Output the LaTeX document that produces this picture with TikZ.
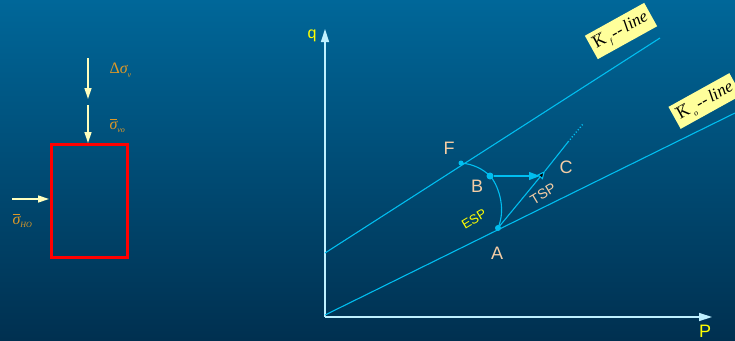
\documentclass[tikz,border=0pt]{standalone}
\usepackage{fontspec}
\setmainfont{Liberation Sans}
\newfontfamily\tnr{Liberation Serif}
\usetikzlibrary{arrows.meta}
\definecolor{bgtop}{RGB}{0,103,153}
\definecolor{bgbot}{RGB}{0,48,80}
\definecolor{arrowyel}{RGB}{255,255,190}
\definecolor{sigcol}{RGB}{220,152,40}
\definecolor{axiscol}{RGB}{190,240,255}
\definecolor{linecol}{RGB}{0,190,240}
\definecolor{ptlab}{RGB}{245,205,165}
\definecolor{qyel}{RGB}{255,255,0}
\definecolor{boxyel}{RGB}{255,255,155}
\newcommand{\ovl}[1]{$\overline{\hbox{#1}}$}
\newcommand{\sbs}[1]{\raisebox{-0.5ex}{\fontsize{8}{8}\selectfont #1}}
\tikzset{
  load/.style={draw=arrowyel, line width=1.4pt, -{Triangle[width=7pt,length=11pt]}},
  sig/.style={text=sigcol, font=\tnr\itshape\fontsize{16}{18}\selectfont},
  axis/.style={draw=axiscol, line width=1.4pt, -{Triangle[width=8pt,length=13pt]}},
  kline/.style={draw=linecol, line width=1.1pt},
  pt/.style={circle, fill=linecol, inner sep=0pt, minimum size=#1},
  ptlabel/.style={text=ptlab, font=\fontsize{18}{20}\selectfont},
  tagbox/.style={fill=boxyel, rotate=29, inner xsep=4pt, inner ysep=4pt, font=\tnr\itshape\fontsize{17}{19}\selectfont, text=black}
}
\begin{document}
\begin{tikzpicture}[x=1pt,y=-1pt]
\shade[top color=bgtop, bottom color=bgbot] (0,0) rectangle (735,340);
\useasboundingbox (0,0) rectangle (735,340);
% left element
\coordinate (a1s) at (88,58); \coordinate (a1e) at (88,99);
\coordinate (a2s) at (88,105); \coordinate (a2e) at (88,143);
\coordinate (hs) at (12,199); \coordinate (he) at (49,199);
\draw[load] (a1s) -- (a1e);
\draw[load] (a2s) -- (a2e);
\draw[load] (hs) -- (he);
\node[draw=red, line width=2.5pt, minimum width=76pt, minimum height=113pt, inner sep=0pt, anchor=north west] (box) at (50,143) {};
\node[sig, anchor=west] (dsv) at (106,70) {{\upshape Δ}σ\sbs{v}};
\node[sig, anchor=west] (svo) at (106,126) {\ovl{σ}\sbs{vo}};
\node[sig, anchor=west] (sho) at (9,221) {\ovl{σ}\sbs{HO}};
% axes
\coordinate (O) at (325,317);
\coordinate (qend) at (325,29);
\coordinate (pend) at (712,317);
\draw[axis] (O) -- (qend);
\draw[axis] (O) -- (pend);
\node[text=qyel, font=\fontsize{16}{18}\selectfont] (q) at (312,36) {q};
\node[text=qyel, font=\fontsize{18}{20}\selectfont] (P) at (705,331) {P};
% K lines
\coordinate (kf0) at (325,253); \coordinate (kf1) at (660,38);
\coordinate (ko0) at (325,315); \coordinate (ko1) at (735,113);
\draw[kline] (kf0) -- (kf1);
\draw[kline] (ko0) -- (ko1);
\node[tagbox] (kft) at (621,31) {{\upshape\ovl{K}}\,\sbs{f}\,--\,line};
\node[tagbox] (kot) at (705,101) {{\upshape\ovl{K}}\,\sbs{o}\,--\,line};
% points
\node[pt=5pt] (F) at (461,163) {};
\node[pt=7pt] (B) at (490,176) {};
\node[pt=6pt] (A) at (498,228) {};
\coordinate (C) at (545,171);
\coordinate (Cx) at (540,176);
\coordinate (E) at (568,142);
\coordinate (D) at (583,124);
\draw[kline] (F.center) .. controls (473,164) and (483,169) .. (B.center)
  .. controls (497,183) and (507,207) .. (A.center);
\draw[kline, -{Triangle[width=8pt,length=11pt]}] (B) -- (Cx);
\draw[kline, -{Triangle[width=7pt,length=8pt,fill=black]}] (A.center) -- (C);
\draw[kline] (C) -- (E);
\draw[kline, dotted, line width=1.4pt] (E) -- (D);
\node[ptlabel] (Fl) at (449,148) {F};
\node[ptlabel] (Bl) at (477,186) {B};
\node[ptlabel] (Cl) at (566,167) {C};
\node[ptlabel] (Al) at (497,253) {A};
\node[text=qyel, rotate=31, font=\fontsize{13}{15}\selectfont] (esp) at (474,219) {ESP};
\node[text=ptlab, rotate=31, font=\fontsize{14}{16}\selectfont] (tsp) at (543,194) {TSP};
\end{tikzpicture}
\end{document}
